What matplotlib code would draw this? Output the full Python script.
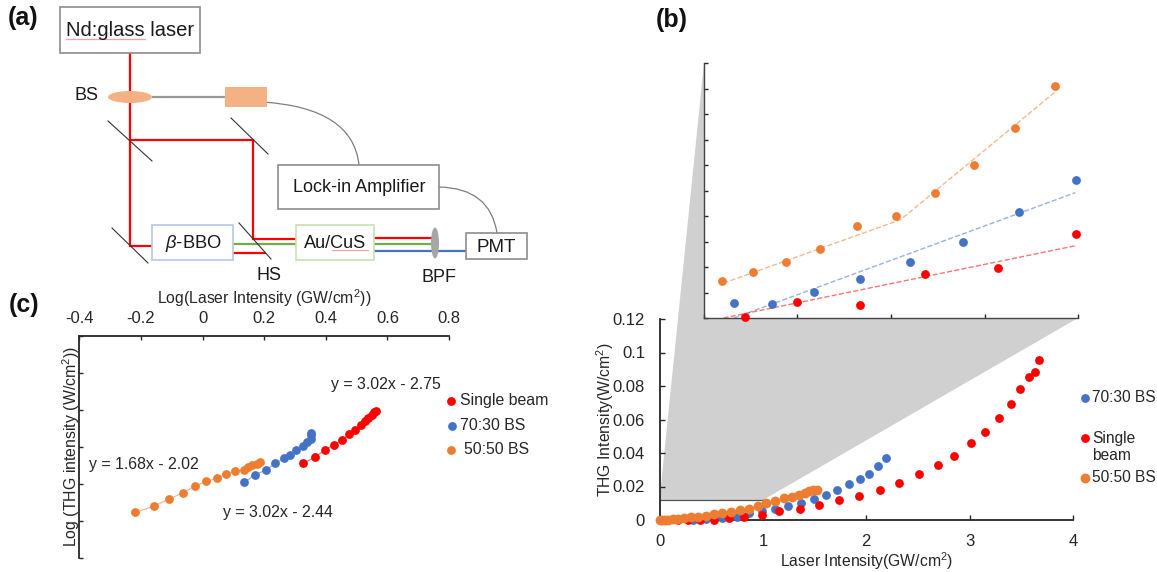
import matplotlib
matplotlib.use("Agg")
import matplotlib.pyplot as plt
from matplotlib.patches import Rectangle, Ellipse, Polygon, PathPatch
from matplotlib.path import Path

plt.rcParams['font.family'] = ['Liberation Sans', 'DejaVu Sans']
plt.rcParams['mathtext.fontset'] = 'custom'
plt.rcParams['mathtext.rm'] = 'Liberation Sans'
plt.rcParams['mathtext.it'] = 'Liberation Sans:italic'
plt.rcParams['mathtext.default'] = 'regular'

RED = '#FF0000'
BLUE = '#4472C4'
ORANGE = '#ED7D31'
INK = '#262626'
W, H = 1157, 572
DOT = 40

# panel b, main plot
single_x = [0.18,0.28,0.39,0.53,0.67,0.82,0.99,1.16,1.355,1.54,1.74,1.93,2.13,2.32,2.51,2.69,2.85,3.01,3.15,3.28,3.40,3.49,3.57,3.63,3.67]
single_y = [0.0002,0.0002,0.0002,0.0002,0.001,0.0018,0.003,0.0052,0.0064,0.009,0.012,0.0146,0.0181,0.0223,0.0273,0.0328,0.0384,0.0462,0.0525,0.0609,0.0691,0.078,0.0854,0.0886,0.0953]
bs7030_x = [0.32,0.45,0.6,0.745,0.87,0.99,1.116,1.24,1.365,1.49,1.61,1.72,1.835,1.94,2.03,2.115,2.19]
bs7030_y = [0.0002,0.0004,0.0009,0.002,0.0044,0.0054,0.0066,0.0082,0.0101,0.0125,0.0149,0.0181,0.0213,0.0243,0.0277,0.0324,0.037]
bs5050_x = [0,0.026,0.05,0.084,0.126,0.18,0.24,0.30,0.37,0.445,0.526,0.606,0.69,0.777,0.868,0.955,1.035,1.116,1.2,1.284,1.352,1.403,1.448,1.487,1.52]
bs5050_y = [0,0,0,0.0002,0.0004,0.0008,0.0012,0.0016,0.002,0.0026,0.0034,0.004,0.0048,0.0058,0.0068,0.0086,0.0103,0.0113,0.0129,0.0139,0.0151,0.0163,0.0171,0.0177,0.0181]

# panel b, inset
in_single_x = [0.110,0.25,0.416,0.592,0.786,0.994]
in_single_y = [0.00006,0.00075,0.00061,0.00208,0.00235,0.00394]
in_7030_x = [0.079,0.181,0.295,0.417,0.551,0.692,0.841,0.994]
in_7030_y = [0.0007,0.00064,0.00122,0.00185,0.00264,0.00358,0.00499,0.00649]
in_5050_x = [0.048,0.131,0.218,0.311,0.410,0.513,0.618,0.721,0.831,0.939]
in_5050_y = [0.00174,0.00217,0.00263,0.00325,0.00435,0.00479,0.0059,0.0072,0.00896,0.01094]
trend_single_x = [0.052,0.996]
trend_single_y = [0,0.00341]
trend_7030_x = [0.08,0.993]
trend_7030_y = [0,0.0059]
trend_5050_x = [0.052,0.525,0.939]
trend_5050_y = [0.00164,0.00462,0.01064]

# panel c
log_single_x = [0.326,0.364,0.396,0.427,0.454,0.476,0.496,0.514,0.527,0.538,0.549,0.557,0.563]
log_single_y = [-1.725,-1.644,-1.55,-1.473,-1.41,-1.329,-1.27,-1.212,-1.158,-1.108,-1.068,-1.036,-1.014]
log_7030_x = [0.135,0.171,0.206,0.236,0.264,0.285,0.305,0.325,0.338,0.351,0.352,0.352]
log_7030_y = [-1.982,-1.878,-1.815,-1.725,-1.658,-1.608,-1.55,-1.486,-1.441,-1.392,-1.338,-1.315]
log_5050_x = [-0.218,-0.159,-0.110,-0.064,-0.025,0.011,0.046,0.076,0.106,0.133,0.146,0.162,0.176,0.188]
log_5050_y = [-2.387,-2.306,-2.212,-2.122,-2.036,-1.968,-1.928,-1.874,-1.833,-1.815,-1.775,-1.748,-1.73,-1.707]

fig = plt.figure(figsize=(W/100, H/100), dpi=100)

def axes_px(left, top, right, bottom, **kw):
    return fig.add_axes([left/W, 1-bottom/H, (right-left)/W, (bottom-top)/H], **kw)

# pixel canvas for the schematic, zoom wedge and loose labels
bg = fig.add_axes([0, 0, 1, 1], zorder=0)
bg.set_xlim(0, W)
bg.set_ylim(H, 0)
bg.axis('off')

def box(x0, y0, x1, y1, ec='#8c8c8c', fc='white', lw=1.2, z=3):
    bg.add_patch(Rectangle((x0, y0), x1-x0, y1-y0, ec=ec, fc=fc, lw=lw, zorder=z))

def beam(xs, ys, c=RED, lw=1.6, z=2):
    bg.plot(xs, ys, color=c, lw=lw, zorder=z, solid_capstyle='butt', solid_joinstyle='miter')

def wire(p0, p1, p2):
    path = Path([p0, p1, p2], [Path.MOVETO, Path.CURVE3, Path.CURVE3])
    bg.add_patch(PathPatch(path, fc='none', ec='#7f7f7f', lw=0.9, zorder=2))

def mirror(x0, y0, x1, y1):
    bg.plot([x0, x1], [y0, y1], color='#333333', lw=0.8, zorder=4)

# panel a
beam([130, 130, 152], [53, 245.5, 245.5])
beam([130, 253, 253, 296], [140, 140, 239, 239])
beam([233, 266], [253, 253])
beam([374, 432], [238, 238])
beam([233, 296], [244, 244], c='#70AD47')
beam([374, 432], [244, 244], c='#70AD47')
beam([374, 466], [251, 251], c=BLUE)
beam([152, 225], [97, 97], c='#999999')
box(59.5, 7, 200, 53)
box(278, 165, 439, 209)
box(466, 233, 527, 259)
box(152, 225, 233, 260, ec='#B4C7E7')
box(296, 225, 374, 260, ec='#C5E0B4')
bg.add_patch(Ellipse((130, 97), 44, 12, fc='#F4B183', ec='none', zorder=3))
bg.add_patch(Rectangle((225, 87), 42, 20, fc='#F4B183', ec='none', zorder=3))
bg.add_patch(Ellipse((435, 243), 8, 31, fc='#A6A6A6', ec='none', zorder=3))
wire((263, 102), (353, 108), (359, 165))
wire((439, 187), (490, 188), (497, 233))
mirror(108, 121, 152, 161)
mirror(231, 118, 268, 154)
mirror(112, 228, 148, 263)
mirror(239, 223, 271, 259)
bg.plot([66, 145], [39, 39], color='#F4A0A8', lw=0.9, zorder=4)
bg.plot([332, 368], [250, 250], color='#F4A0A8', lw=0.9, zorder=4)

for s, x, y, fs in [('Nd:glass laser', 130, 31, 14.5), ('Lock-in Amplifier', 359, 187, 13),
                    ('PMT', 496, 247, 13.5), (r'$\mathit{\beta}$-BBO', 193, 243, 13.2),
                    ('Au/CuS', 335, 243, 13.1), ('BS', 86, 96, 13), ('HS', 269, 276, 13), ('BPF', 439, 277, 13)]:
    bg.text(x, y, s, ha='center', va='center', fontsize=fs, color='#1a1a1a', zorder=5)

for s, x, y in [('(a)', 8, 18), ('(b)', 656, 20), ('(c)', 9, 305)]:
    bg.text(x, y, s, ha='left', va='center', fontsize=18, fontweight='bold', color='#111111')

# zoom wedge from the small box up to the inset
bg.add_patch(Polygon([(704, 63), (1078, 318), (763, 500), (659.5, 500)], fc='#D0D0D0', ec='none', zorder=1))
bg.plot([659.5, 763], [500, 500], color='#555555', lw=0.9, zorder=1.5)
bg.plot([763, 763], [500, 520], color='#555555', lw=0.9, zorder=1.5)

# panel b main
ax = axes_px(659.5, 319, 1073, 520, zorder=2)
ax.patch.set_alpha(0)
ax.scatter(bs7030_x, bs7030_y, s=DOT, color=BLUE, clip_on=False, lw=0, zorder=3)
ax.scatter(single_x, single_y, s=DOT, color=RED, clip_on=False, lw=0, zorder=4)
ax.scatter(bs5050_x, bs5050_y, s=50, color=ORANGE, clip_on=False, lw=0, zorder=5)
ax.set_xlim(0, 4)
ax.set_ylim(0, 0.12)
ax.set_xticks([0, 1, 2, 3, 4])
ax.set_xticklabels(['0', '1', '2', '3', '4'])
ax.set_yticks([0, 0.02, 0.04, 0.06, 0.08, 0.1, 0.12])
ax.set_yticklabels(['0', '0.02', '0.04', '0.06', '0.08', '0.1', '0.12'])
ax.tick_params(direction='in', length=3.5, width=1, labelsize=12, colors=INK)
ax.tick_params(axis='x', pad=10)
ax.tick_params(axis='y', pad=10.5)
ax.set_xlabel('Laser Intensity(GW/cm$^2$)', fontsize=11.3, color=INK)
ax.xaxis.set_label_coords(0.5, -0.149)
ax.set_ylabel('THG Intensity(W/cm$^2$)', fontsize=11.3, color=INK)
ax.yaxis.set_label_coords(-0.105, 0.5)
for side in ['top', 'right']:
    ax.spines[side].set_visible(False)
for side in ['left', 'bottom']:
    ax.spines[side].set_linewidth(1.3)
    ax.spines[side].set_color(INK)

# panel b inset
ins = axes_px(704, 63, 1078, 318, zorder=1.5)
ins.fill_between([0, 1], [0, 0], [0.012, 0.012], color='white', lw=0, zorder=0)
ins.plot(trend_single_x, trend_single_y, '--', color=RED, lw=1, alpha=0.55)
ins.plot(trend_7030_x, trend_7030_y, '--', color=BLUE, lw=1, alpha=0.55)
ins.plot(trend_5050_x, trend_5050_y, '--', color=ORANGE, lw=1, alpha=0.55)
ins.scatter(in_7030_x, in_7030_y, s=DOT, color=BLUE, clip_on=False, lw=0, zorder=3)
ins.scatter(in_single_x, in_single_y, s=DOT, color=RED, clip_on=False, lw=0, zorder=3)
ins.scatter(in_5050_x, in_5050_y, s=DOT, color=ORANGE, clip_on=False, lw=0, zorder=3)
ins.set_xlim(0, 1)
ins.set_ylim(0, 0.012)
ins.set_xticks([0, 0.25, 0.5, 0.75, 1])
ins.set_yticks([i*0.0012 for i in range(11)])
ins.tick_params(direction='in', length=3, width=1, labelbottom=False, labelleft=False, color=INK)
for side in ['top', 'right']:
    ins.spines[side].set_visible(False)
for side in ['left', 'bottom']:
    ins.spines[side].set_linewidth(1)
    ins.spines[side].set_color('#444444')

# legend of panel b
bg.scatter([1085], [398], s=DOT, color=BLUE, lw=0, zorder=5)
bg.scatter([1085], [438], s=DOT, color=RED, lw=0, zorder=5)
bg.scatter([1085], [478], s=50, color=ORANGE, lw=0, zorder=5)
for s, y in [('70:30 BS', 398), ('Single', 438), ('beam', 456), ('50:50 BS', 477)]:
    bg.text(1092, y, s, ha='left', va='center', fontsize=11.2, color=INK)

# panel c
cx = axes_px(79.3, 335.7, 449, 557.7, zorder=2)
cx.patch.set_alpha(0)
cx.plot(log_single_x, log_single_y, color=RED, lw=0.8, alpha=0.6)
cx.plot(log_7030_x, log_7030_y, color=BLUE, lw=0.8, alpha=0.6)
cx.plot(log_5050_x, log_5050_y, color=ORANGE, lw=0.8, alpha=0.6)
cx.scatter(log_single_x, log_single_y, s=DOT, color=RED, lw=0, zorder=3)
cx.scatter(log_7030_x, log_7030_y, s=DOT, color=BLUE, lw=0, zorder=3)
cx.scatter(log_5050_x, log_5050_y, s=DOT, color=ORANGE, lw=0, zorder=3)
cx.set_xlim(-0.4, 0.8)
cx.set_ylim(-3, 0)
cx.set_xticks([-0.4, -0.2, 0, 0.2, 0.4, 0.6, 0.8])
cx.set_xticklabels(['-0.4', '-0.2', '0', '0.2', '0.4', '0.6', '0.8'])
cx.set_yticks([-3, -2.5, -2, -1.5, -1, -0.5, 0])
cx.xaxis.tick_top()
cx.xaxis.set_label_position('top')
cx.tick_params(direction='in', length=3, width=1, labelsize=12, colors=INK, pad=7)
cx.tick_params(axis='y', labelleft=False)
cx.set_xlabel('Log(Laser Intensity (GW/cm$^2$))', fontsize=11.3, color=INK)
cx.xaxis.set_label_coords(0.5, 1.142)
cx.set_ylabel('Log (THG intensity (W/cm$^2$))', fontsize=11.4, color=INK)
cx.yaxis.set_label_coords(0.008, 0.503)
for side in ['bottom', 'right']:
    cx.spines[side].set_visible(False)
for side in ['left', 'top']:
    cx.spines[side].set_linewidth(1.3)
    cx.spines[side].set_color(INK)

bg.scatter([451], [401], s=DOT, color=RED, lw=0, zorder=5)
bg.scatter([451.5], [426], s=DOT, color=BLUE, lw=0, zorder=5)
bg.scatter([451], [450], s=DOT, color=ORANGE, lw=0, zorder=5)
for s, x, y in [('Single beam', 459.5, 401), ('70:30 BS', 459.5, 426), ('50:50 BS', 464, 450),
                ('y = 3.02x - 2.75', 331, 384), ('y = 1.68x - 2.02', 89, 465), ('y = 3.02x - 2.44', 223, 512)]:
    bg.text(x, y, s, ha='left', va='center', fontsize=11.4, color=INK)

fig.savefig('out.png', dpi=100)
